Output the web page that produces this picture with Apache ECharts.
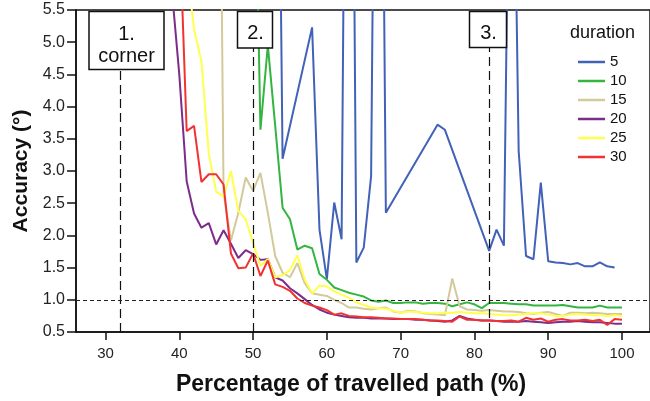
<!DOCTYPE html>
<html><head><meta charset="utf-8">
<script src="https://cdn.jsdelivr.net/npm/echarts@6/dist/echarts.min.js"></script>
<style>html,body{margin:0;padding:0;background:#fff}#c{width:650px;height:401px}</style>
</head><body><div id="c"></div>
<script>
const xs = [38,39,40,41,42,43,44,45,46,47, 48,49,50,51,52,53,54,55,56,57, 58,59,60,61,62,63,64,65,66,67, 68,69,70,71,72,73,74,75,76,77, 78,79,80,81,82,83,84,85,86,87, 88,89,90,91,92,93,94,95,96,97, 98,99,100];
const dur5 = [null,null,null,null,null,null,null,null,null,null, null,null,null,null,null,14,3.19,null,null,null, 5.23,2.09,1.32,2.51,1.94,17,1.58,1.81,2.92,16, 2.35,null,null,null,null,null,null,3.72,3.64,null, null,null,null,null,1.76,2.09,1.84,11,3.31,1.68, 1.63,2.82,1.60,1.58,1.57,1.55,1.57,1.52,1.52,1.58, 1.52,1.50,null];
const dur10 = [null,null,null,null,null,null,null,null,null,null, null,14,9.5,3.64,4.95,3.70,2.43,2.25,1.78,1.84, 1.80,1.40,1.31,1.19,1.15,1.11,1.08,1.05,0.99,0.97, 0.99,0.95,0.95,0.96,0.96,0.94,0.95,0.95,0.94,0.90, 0.93,0.96,0.93,0.87,0.95,0.95,0.95,0.94,0.93,0.93, 0.91,0.91,0.91,0.91,0.92,0.90,0.88,0.88,0.88,0.91, 0.88,0.88,0.88];
const dur15 = [null,null,null,null,null,null,null,15,2.66,1.92, 2.35,2.90,2.69,2.97,2.35,1.68,1.42,1.35,1.57,1.26, 1.10,1.08,1.06,1.00,0.95,0.88,0.88,0.86,0.85,0.87, 0.88,0.82,0.80,0.83,0.82,0.79,0.78,0.77,0.76,1.33, 0.90,0.85,0.84,0.83,0.84,0.83,0.82,0.82,0.81,0.79, 0.78,0.80,0.81,0.78,0.75,0.80,0.80,0.79,0.80,0.79, 0.78,0.78,0.78];
const dur20 = [7.5,5.8,4.5,2.84,2.34,2.12,2.19,1.86,2.08,1.87, 1.65,1.77,1.71,1.62,1.63,1.35,1.30,1.18,1.10,1.01, 0.92,0.85,0.80,0.77,0.75,0.73,0.72,0.72,0.71,0.71, 0.71,0.70,0.70,0.70,0.69,0.69,0.68,0.67,0.66,0.68, 0.75,0.71,0.69,0.68,0.68,0.67,0.66,0.66,0.66,0.67, 0.66,0.65,0.64,0.65,0.66,0.66,0.67,0.66,0.65,0.65, 0.64,0.63,0.63];
const dur25 = [null,null,null,6.2,5.2,4.70,3.27,2.68,2.60,3.00, 2.38,2.25,1.88,1.53,1.63,1.35,1.38,1.46,1.69,1.32, 1.10,1.22,1.21,1.13,1.08,1.03,0.96,0.92,0.88,0.87, 0.86,0.83,0.80,0.82,0.81,0.80,0.79,0.79,0.80,0.80, 0.81,0.80,0.79,0.79,0.78,0.77,0.76,0.76,0.77,0.78, 0.79,0.79,0.77,0.75,0.75,0.77,0.78,0.77,0.76,0.76, 0.75,0.76,0.75];
const dur30 = [null,10,6.9,3.62,3.70,2.83,2.95,2.95,2.79,1.72, 1.49,1.50,1.72,1.37,1.61,1.24,1.20,1.14,1.02,0.95, 0.91,0.88,0.84,0.77,0.79,0.75,0.74,0.73,0.73,0.72, 0.71,0.71,0.70,0.70,0.70,0.69,0.68,0.68,0.67,0.66, 0.74,0.69,0.69,0.68,0.68,0.67,0.67,0.68,0.66,0.72, 0.69,0.71,0.66,0.69,0.70,0.68,0.68,0.69,0.67,0.69, 0.61,0.70,0.69];
const seriesNames = ['5','10','15','20','25','30'];
const seriesValues = [dur5, dur10, dur15, dur20, dur25, dur30];
const seriesColors = ['#4262b8','#33b540','#d4c99a','#7b2d8c','#ffff50','#f23232'];
const xTicks = [30,40,50,60,70,80,90,100];
const eventX = [32, 50, 82];
const eventTop = [4.59, 4.91, 4.93];
const refLevel = 1.0;

const FONT = 'Liberation Sans, Arial, Helvetica, sans-serif';
const chart = echarts.init(document.getElementById('c'), null, {renderer:'canvas'});

const series = seriesNames.map((n, k) => ({
  name: n, type: 'line', symbol: 'none', connectNulls: true, clip: true,
  data: xs.map((x, i) => [x, seriesValues[k][i]]),
  lineStyle: {width: 2, color: seriesColors[k]}, itemStyle: {color: seriesColors[k]},
  emphasis: {disabled: true}, animation: false
}));
series.push({
  name: 'annot', type: 'line', data: [], symbol: 'none', z: 4, animation: false,
  markLine: {
    silent: true, symbol: 'none', label: {show: false}, animation: false,
    data: eventX.map((x, i) => [{coord: [x, 0.5], lineStyle: {type: [9, 5], color: '#111', width: 1.2}},
                                 {coord: [x, eventTop[i]]}])
      .concat([{yAxis: refLevel, lineStyle: {type: [4, 3], color: '#222', width: 1}}])
  }
});

chart.setOption({
  animation: false,
  backgroundColor: '#fff',
  textStyle: {fontFamily: FONT},
  title: {text: 'duration', left: 570, top: 24, padding: 0, textStyle: {fontFamily: FONT, fontSize: 18, fontWeight: 'normal', color: '#111'}},
  legend: {
    data: seriesNames, orient: 'vertical', left: 578, top: 54, padding: 0,
    icon: 'rect', itemWidth: 27, itemHeight: 2.5, itemGap: 3,
    textStyle: {fontFamily: FONT, fontSize: 15, color: '#111', lineHeight: 16}
  },
  grid: {left: 76, top: 10, right: -3, bottom: 68, show: true, borderColor: '#111', borderWidth: 1.5, containLabel: false},
  xAxis: {
    type: 'value', min: 26, max: 103.8,
    name: 'Percentage of travelled path (%)', nameLocation: 'middle', nameGap: 41,
    nameTextStyle: {fontFamily: FONT, fontSize: 23, fontWeight: 'bold', color: '#111', padding: [0, 24, 0, 0]},
    axisLine: {show: true, onZero: false, lineStyle: {color: '#111', width: 1.5}},
    axisTick: {show: true, length: 8, customValues: xTicks, lineStyle: {color: '#111', width: 1.5}},
    axisLabel: {customValues: xTicks, fontSize: 15, color: '#222', margin: 14, fontFamily: FONT},
    splitLine: {show: false}
  },
  yAxis: {
    type: 'value', min: 0.5, max: 5.5, interval: 0.5,
    name: 'Accuracy (°)', nameLocation: 'middle', nameGap: 37,
    nameTextStyle: {fontFamily: FONT, fontSize: 21, fontWeight: 'bold', color: '#111'},
    axisLine: {show: true, onZero: false, lineStyle: {color: '#111', width: 1.5}},
    axisTick: {show: true, length: 9, lineStyle: {color: '#111', width: 1.5}},
    axisLabel: {fontSize: 16, color: '#222', margin: 11, fontFamily: FONT, formatter: v => v.toFixed(1)},
    splitLine: {show: false}
  },
  series: series,
  graphic: [
    {type: 'rect', z: 100, shape: {x: 89, y: 11.5, width: 75, height: 58}, style: {fill: '#fff', stroke: '#111', lineWidth: 1.5}},
    {type: 'text', z: 101, style: {x: 126.5, y: 45, text: '1.\ncorner', fill: '#111', font: '20px ' + FONT, align: 'center', verticalAlign: 'middle', lineHeight: 22}},
    {type: 'rect', z: 100, shape: {x: 237.5, y: 11.5, width: 35, height: 36.5}, style: {fill: '#fff', stroke: '#111', lineWidth: 1.5}},
    {type: 'text', z: 101, style: {x: 255.5, y: 33, text: '2.', fill: '#111', font: '20px ' + FONT, align: 'center', verticalAlign: 'middle'}},
    {type: 'rect', z: 100, shape: {x: 469.5, y: 11.5, width: 37, height: 36}, style: {fill: '#fff', stroke: '#111', lineWidth: 1.5}},
    {type: 'text', z: 101, style: {x: 488.5, y: 33, text: '3.', fill: '#111', font: '20px ' + FONT, align: 'center', verticalAlign: 'middle'}}
  ]
});
</script></body></html>
